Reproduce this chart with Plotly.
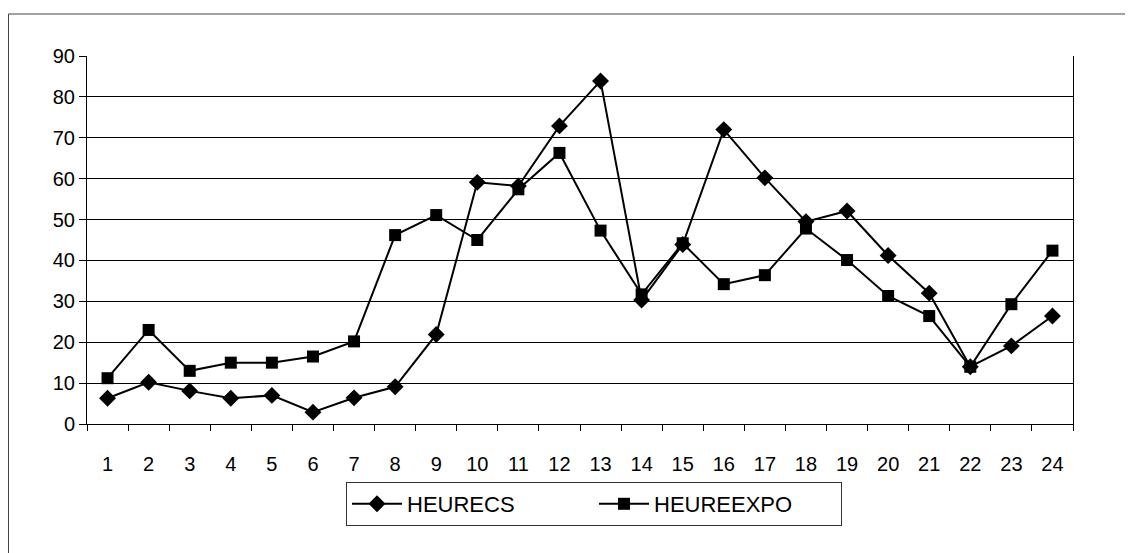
import plotly.graph_objects as go

hours = [str(i) for i in range(1, 25)]
heurecs = [6.3, 10.2, 8.1, 6.3, 7.0, 2.9, 6.4, 9.1, 21.9, 59.1, 58.2, 72.9,
           83.9, 30.3, 43.9, 72.0, 60.2, 49.5, 52.1, 41.2, 32.0, 14.0, 19.1, 26.4]
heureexpo = [11.2, 23.0, 13.0, 15.0, 15.0, 16.5, 20.2, 46.2, 51.1, 45.0, 57.4, 66.3,
             47.3, 31.7, 44.2, 34.2, 36.4, 47.8, 40.1, 31.3, 26.4, 14.0, 29.3, 42.4]
y_ticks = list(range(0, 91, 10))

# page body adds an 8px margin, so work in figure coordinates shifted by 8px
OFF = 8
W, H = 1133 - OFF, 553 - OFF
L, R, T, B = 87 - OFF, 1073 - OFF, 56 - OFF, 424 - OFF

FAM = "Liberation Sans, Arial, sans-serif"

fig = go.Figure()
fig.add_trace(go.Scatter(x=hours, y=heurecs, name="HEURECS", mode="lines+markers",
                         line=dict(color="black", width=2),
                         marker=dict(symbol="diamond", size=13, color="black")))
fig.add_trace(go.Scatter(x=hours, y=heureexpo, name="HEUREEXPO", mode="lines+markers",
                         line=dict(color="black", width=2),
                         marker=dict(symbol="square", size=12, color="black")))

def px(xp):
    return (xp - L) / (R - L)

def py(yp):
    return (B - yp) / (B - T)

fig.update_layout(
    width=W, height=H,
    margin=dict(l=L, r=W - R, t=T, b=H - B),
    paper_bgcolor="white", plot_bgcolor="white",
    font=dict(family=FAM, size=20, color="black"),
    showlegend=True,
    legend=dict(orientation="h", x=px(594 - OFF), y=py(504 - OFF),
                xanchor="center", yanchor="middle",
                bordercolor="#333", borderwidth=1, bgcolor="white",
                font=dict(family=FAM, size=22, color="black"),
                itemwidth=50, entrywidth=182, tracegroupgap=0),
    xaxis=dict(type="category", range=[-0.5, 23.5], tickson="boundaries",
               ticks="outside", ticklen=6, tickcolor="black", tickwidth=1,
               showline=True, linecolor="black", linewidth=1,
               showgrid=False, ticklabelstandoff=22,
               tickfont=dict(size=20)),
    yaxis=dict(range=[0, 90], tickvals=y_ticks, ticks="outside", ticklen=7,
               tickcolor="black", showline=True, linecolor="black", linewidth=1,
               mirror=True, gridcolor="black", gridwidth=1, zeroline=False,
               ticklabelstandoff=0, tickfont=dict(size=20)),
    shapes=[dict(type="rect", xref="paper", yref="paper",
                 x0=px(0.5), x1=px(1122), y0=py(H + 3), y1=py(14 - OFF),
                 line=dict(color="#444", width=1))],
)

fig.write_html("out.html")
